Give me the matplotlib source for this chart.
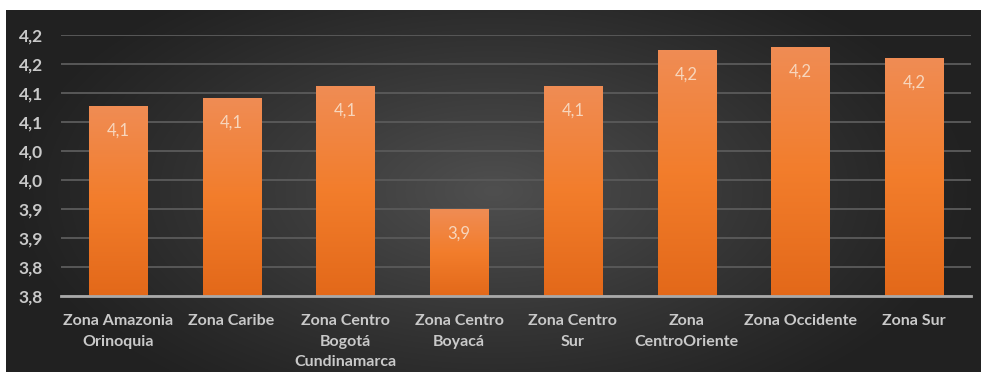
"""
Bar chart of average score per zone, dark panel with orange bars
"""

import numpy as np
import matplotlib
matplotlib.use("Agg")
import matplotlib.pyplot as plt
from matplotlib.ticker import FixedLocator, FuncFormatter

zonas = [
    "Zona Amazonia\nOrinoquia",
    "Zona Caribe",
    "Zona Centro\nBogotá\nCundinamarca",
    "Zona Centro\nBoyacá",
    "Zona Centro\nSur",
    "Zona\nCentroOriente",
    "Zona Occidente",
    "Zona Sur",
]
promedios = [4.078, 4.091, 4.112, 3.900, 4.112, 4.174, 4.179, 4.160]
y_ticks = [3.75, 3.80, 3.85, 3.90, 3.95, 4.00, 4.05, 4.10, 4.15, 4.20]

plt.rcParams['font.family'] = ['Lato', 'DejaVu Sans']

fig = plt.figure(figsize=(9.81, 3.72), dpi=100)
fig.patch.set_facecolor("white")

# dark panel with a soft radial glow in the middle
bg = fig.add_axes([6 / 981, 0, 975 / 981, 362 / 372])
bg.set_axis_off()
gx, gy = np.meshgrid(np.linspace(-1, 1, 400), np.linspace(-1, 1, 200))
r = np.sqrt((gx / 1.0) ** 2 + (gy / 1.4) ** 2)
shade = np.clip(1 - r, 0, 1) ** 1.1
lo, hi = np.array([0.13, 0.13, 0.13]), np.array([0.31, 0.31, 0.31])
img = lo + (hi - lo) * shade[..., None]
bg.imshow(img, aspect="auto", extent=[0, 1, 0, 1], interpolation="bilinear")
bg.set_xlim(0, 1)
bg.set_ylim(0, 1)

ax = fig.add_axes([61 / 981, 76.3 / 372, 910 / 981, 260.7 / 372])
ax.set_facecolor("none")

x = np.arange(len(zonas))
bars = ax.bar(x, promedios, width=0.51, color="#f07c28", zorder=2)

# vertical orange gradient inside each bar
grad = np.linspace(0, 1, 256)[:, None]
top_c = np.array([0.94, 0.55, 0.33])
mid_c = np.array([0.95, 0.49, 0.17])
bot_c = np.array([0.89, 0.41, 0.10])
cols = np.where(grad < 0.5,
                bot_c + (mid_c - bot_c) * (grad / 0.5),
                mid_c + (top_c - mid_c) * ((grad - 0.5) / 0.5))
cols = cols[:, None, :] * np.ones((1, 2, 1))
for b, v in zip(bars, promedios):
    x0 = b.get_x()
    w = b.get_width()
    im = ax.imshow(cols, origin="lower", aspect="auto",
                   extent=[x0, x0 + w, 3.75, v], zorder=3,
                   interpolation="bilinear")
    im.set_clip_path(b)
    ax.text(x0 + w / 2, v - 0.043, f"{v:.1f}".replace(".", ","),
            ha="center", va="center", color="#f7d6bd", fontsize=12,
            zorder=4)

ax.set_xlim(-0.5, len(zonas) - 0.5)
ax.set_ylim(3.75, 4.20)
ax.yaxis.set_major_locator(FixedLocator(y_ticks))
ax.yaxis.set_major_formatter(
    FuncFormatter(lambda v, p: f"{np.floor(v * 10 + 0.5) / 10:.1f}".replace(".", ",")))
ax.grid(axis="y", color="#585858", linewidth=1.4, zorder=1)
ax.set_axisbelow(True)

for s in ["top", "right", "left"]:
    ax.spines[s].set_visible(False)
ax.spines["bottom"].set_color("#a9a9a9")
ax.spines["bottom"].set_linewidth(2)
ax.spines["bottom"].set_zorder(5)

ax.set_xticks(x)
ax.set_xticklabels(zonas, linespacing=1.62)
ax.tick_params(axis="x", length=0, pad=13, colors="#c9c9c9", labelsize=11.5)
ax.tick_params(axis="y", length=0, pad=13, colors="#c9c9c9", labelsize=12.5)
for lab in ax.get_xticklabels() + ax.get_yticklabels():
    lab.set_fontweight("bold")

fig.savefig("out.png", dpi=100, facecolor=fig.get_facecolor())
